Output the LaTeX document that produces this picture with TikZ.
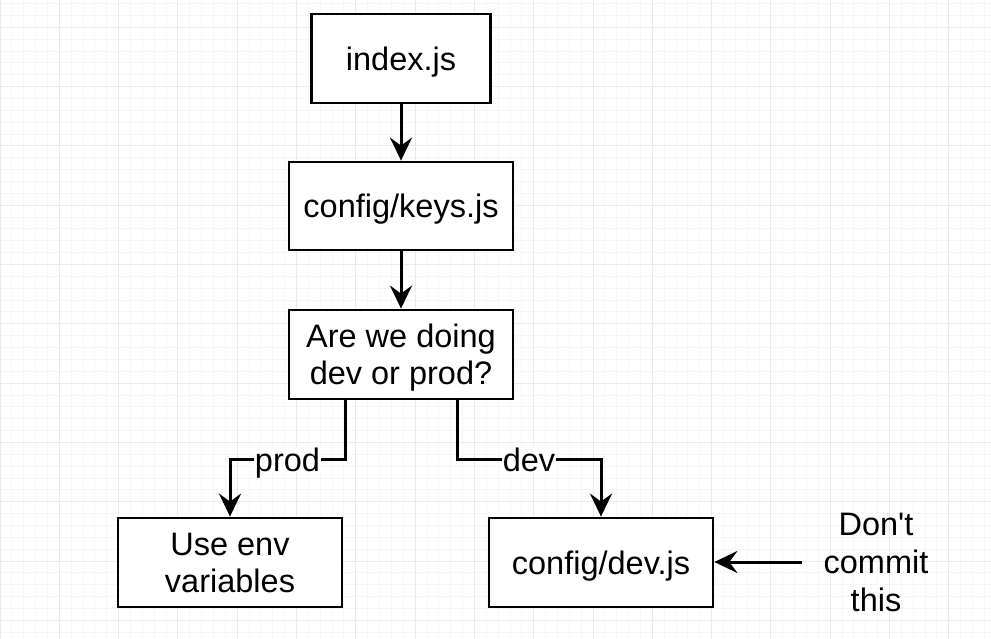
\documentclass[tikz,border=0pt]{standalone}
\usepackage{fontspec}
\setmainfont{Liberation Sans}[Ligatures=TeXOff]
\usetikzlibrary{arrows.meta}

\begin{document}
\begin{tikzpicture}[x=1pt, y=-1pt,
  box/.style={draw=black, line width=2.8pt, minimum height=89pt, align=center,
    text depth=0pt, font=\fontsize{32.5}{37}\selectfont},
  lbl/.style={fill=white, inner sep=1pt, text depth=0pt, font=\fontsize{32.5}{37}\selectfont},
  arr/.style={line width=3pt, -{Stealth[length=23pt, width=22pt, inset=8pt]}},
  minorgrid/.style={draw={rgb,255:red,246;green,246;blue,246}, line width=0.9pt},
  majorgrid/.style={draw={rgb,255:red,235;green,235;blue,235}, line width=1pt}]
  % background and grid
  \fill[white] (0,0) rectangle (991,639);
  \useasboundingbox (0,0) rectangle (991,639);
  \foreach \i in {0,...,84} \draw[minorgrid] ({\i*11.86},0) -- ({\i*11.86},639);
  \foreach \i in {-2,...,52} \draw[minorgrid] (0,{27.3+\i*11.86}) -- (991,{27.3+\i*11.86});
  \foreach \i in {0,...,16} \draw[majorgrid] ({\i*59.3},0) -- ({\i*59.3},639);
  \foreach \i in {0,...,10} \draw[majorgrid] (0,{27.3+\i*59.3}) -- (991,{27.3+\i*59.3});

  % draw boxes
  \node[box, fill=white, minimum width=179pt] (idx) at (401, 58.5) {index.js};
  \node[box, fill=white, minimum width=224pt, minimum height=88pt] (keys) at (401, 206) {config/keys.js};
  \node[box, fill=white, minimum width=224pt] (ask) at (401, 354.5) {Are we doing\\dev or prod?};
  \node[box, fill=white, minimum width=224pt] (env) at (230, 562.5) {Use env\\variables};
  \node[box, fill=white, minimum width=224pt] (devjs) at (601, 562.5) {config/dev.js};
  \node[align=center, font=\fontsize{32.5}{38}\selectfont, inner xsep=21pt] (note) at (876, 562) {Don't\\commit\\this};

  % draw arrows
  \draw[arr] (idx) -- (keys);
  \draw[arr] (keys) -- (ask);
  \draw[arr] ([xshift=-56pt]ask.south) -- ++(0,59) -| node[lbl, pos=0.25] {prod} (env.north);
  \draw[arr] ([xshift=56pt]ask.south) -- ++(0,59) -| node[lbl, pos=0.25] {dev} (devjs.north);
  \draw[arr] (note.west) -- (note.west -| devjs.east);
\end{tikzpicture}
\end{document}
